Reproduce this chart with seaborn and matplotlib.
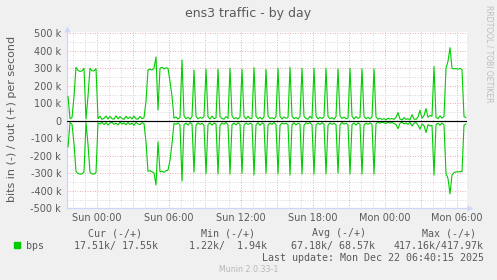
import matplotlib
matplotlib.use("Agg")
import matplotlib.pyplot as plt
import matplotlib.dates as mdates
import matplotlib.transforms as mtransforms
from matplotlib.patches import Rectangle
from matplotlib.ticker import MultipleLocator, FuncFormatter, FixedLocator
import pandas as pd
import seaborn as sns

# ---------------- data (k bits/s, 10-minute samples) ----------------
start_time = "2025-12-20 21:35"
sample_step = "10min"

out_k = [
    140, 12, 18, 140, 305, 288, 282, 285, 300, 10,
    140, 300, 286, 285, 298, 12, 26, 8, 14, 27,
    10, 25, 12, 9, 28, 11, 24, 13, 8, 26,
    12, 22, 10, 27, 11, 9, 25, 12, 18, 110,
    290, 296, 290, 300, 365, 62, 300, 306, 296, 303,
    300, 225, 140, 15, 22, 10, 18, 347, 28, 12,
    20, 9, 24, 290, 26, 11, 19, 14, 25, 296,
    22, 10, 27, 12, 16, 296, 25, 13, 9, 24,
    14, 300, 27, 12, 18, 10, 22, 294, 24, 11,
    26, 13, 15, 304, 26, 12, 20, 9, 23, 294,
    28, 13, 17, 11, 24, 300, 25, 10, 22, 14,
    18, 305, 27, 12, 19, 10, 25, 300, 24, 14,
    9, 26, 13, 300, 28, 11, 20, 13, 22, 300,
    25, 12, 18, 9, 24, 297, 27, 13, 21, 11,
    16, 300, 26, 10, 24, 14, 19, 297, 25, 12,
    20, 11, 22, 297, 22, 9, 14, 8, 12, 6,
    15, 10, 13, 8, 20, 47, 10, 5, 18, 8,
    12, 6, 35, 10, 8, 22, 60, 15, 30, 70,
    20, 31, 25, 310, 20, 12, 28, 15, 25, 300,
    340, 418, 300, 296, 298, 295, 300, 292, 24, 18,
]

in_k = [
    -150, -10, -20, -130, -290, -300, -305, -303, -292, -10,
    -135, -295, -303, -305, -296, -12, -18, -8, -22, -10,
    -25, -12, -9, -20, -14, -24, -8, -19, -12, -23,
    -9, -21, -13, -26, -10, -18, -22, -11, -15, -120,
    -288, -285, -292, -298, -367, -120, -292, -288, -294, -285,
    -282, -225, -130, -15, -20, -12, -24, -344, -22, -13,
    -25, -10, -18, -294, -24, -12, -20, -14, -26, -304,
    -21, -11, -25, -13, -17, -304, -26, -12, -19, -10,
    -23, -304, -22, -13, -24, -11, -18, -300, -25, -12,
    -21, -14, -19, -309, -23, -11, -26, -12, -17, -300,
    -24, -13, -20, -10, -22, -304, -25, -12, -18, -14,
    -21, -309, -22, -11, -24, -13, -19, -304, -26, -12,
    -17, -10, -23, -304, -24, -13, -21, -11, -18, -304,
    -25, -12, -20, -14, -22, -300, -23, -10, -19, -13,
    -24, -304, -22, -12, -25, -11, -18, -304, -24, -13,
    -20, -12, -21, -304, -16, -9, -14, -7, -12, -16,
    -8, -13, -10, -15, -22, -45, -14, -8, -18, -12,
    -20, -9, -30, -14, -10, -25, -48, -18, -28, -67,
    -22, -30, -26, -310, -22, -14, -26, -12, -24, -300,
    -330, -418, -310, -295, -292, -292, -290, -290, -25, -18,
]

y_ticks_k = [-500, -400, -300, -200, -100, 0, 100, 200, 300, 400, 500]
x_label_hours = [0, 6, 12, 18]
x_start = "2025-12-20 21:30"
x_end = "2025-12-22 06:50"

title = "ens3 traffic - by day"
ylabel = "bits in (-) / out (+) per second"
series_name = "bps"
legend_headers = ["Cur (-/+)", "Min (-/+)", "Avg (-/+)", "Max (-/+)"]
legend_values = ["17.51k/ 17.55k", "1.22k/  1.94k", "67.18k/ 68.57k", "417.16k/417.97k"]
last_update = "Last update: Mon Dec 22 06:40:15 2025"
watermark = "Munin 2.0.33-1"
rrd_tag = "RRDTOOL / TOBI OETIKER"

# ---------------- style ----------------
W, H = 497, 280
BACK = "#F0F0F0"
FONT = "#5a5a5a"
AXIS = "#CFD6F8"
GREEN = "#00CC00"
MGRID = "#ecb4b4"
GRID = "#dadada"

sns.set_style("white")
plt.rcParams["font.family"] = ["DejaVu Sans"]

fig = plt.figure(figsize=(W / 100, H / 100), dpi=100, facecolor=BACK)
ax_left, ax_right, ax_top, ax_bottom = 67, 467, 31.7, 208.3
ax = fig.add_axes([ax_left / W, 1 - ax_bottom / H, (ax_right - ax_left) / W, (ax_bottom - ax_top) / H])
ax.set_facecolor("white")

df = pd.DataFrame({
    "time": pd.date_range(start_time, periods=len(out_k), freq=sample_step),
    "out": out_k,
    "in": in_k,
})

sns.lineplot(data=df, x="time", y="out", color=GREEN, lw=0.8, ax=ax, estimator=None, zorder=3)
sns.lineplot(data=df, x="time", y="in", color=GREEN, lw=0.8, ax=ax, estimator=None, zorder=3)
ax.axhline(0, color="black", lw=0.85, zorder=5)

ax.set_xlim(pd.Timestamp(x_start), pd.Timestamp(x_end))
ax.set_ylim(y_ticks_k[0], y_ticks_k[-1] + 9)

# x axis
ax.xaxis.set_major_locator(mdates.HourLocator(byhour=range(0, 24, 3)))
ax.xaxis.set_minor_locator(mdates.HourLocator())


def xfmt(v, pos):
    d = mdates.num2date(v)
    return d.strftime("%a %H:%M") if (d.hour in x_label_hours and d.minute == 0) else ""


ax.xaxis.set_major_formatter(FuncFormatter(xfmt))

# y axis
ax.yaxis.set_major_locator(FixedLocator(y_ticks_k))
ax.yaxis.set_minor_locator(MultipleLocator(50))
ax.yaxis.set_major_formatter(FuncFormatter(lambda v, p: "0" if v == 0 else f"{int(v)} k"))

ax.set_xlabel("")
ax.set_ylabel("")

ax.tick_params(axis="x", which="both", length=0, pad=3.2, labelsize=7, labelcolor=FONT)
ax.tick_params(axis="y", which="both", length=1.6, width=0.6, color="#b0b0b0", pad=2.6,
               labelsize=7, labelcolor=FONT)

dots = (0, (1, 1.5))
ax.grid(which="minor", color=GRID, ls=dots, lw=0.72, zorder=0)
ax.grid(which="major", color=MGRID, ls=dots, lw=0.72, zorder=1)
ax.set_axisbelow(True)

for s in ["top", "right"]:
    ax.spines[s].set_visible(False)
for s in ["left", "bottom"]:
    ax.spines[s].set_color(AXIS)
    ax.spines[s].set_linewidth(0.9)

# axis arrows
t_up = mtransforms.offset_copy(ax.transAxes, fig=fig, x=0, y=2.5, units="dots")
ax.plot([0], [1], marker="^", ms=4.2, color=AXIS, mec="none", transform=t_up, clip_on=False)
t_rt = mtransforms.offset_copy(ax.transAxes, fig=fig, x=3.0, y=0, units="dots")
ax.plot([1], [0], marker=">", ms=4.2, color=AXIS, mec="none", transform=t_rt, clip_on=False)

# texts
fig.text(248 / W, 1 - 13.5 / H, title, ha="center", va="center", fontsize=9, color=FONT)
fig.text(11.7 / W, 1 - 119 / H, ylabel, rotation=90, ha="center", va="center", fontsize=8, color=FONT)
fig.text(489 / W, 1 - 5 / H, rrd_tag, rotation=270, ha="center", va="top", fontsize=5.5, color="#bdbdbd")

mono = dict(family="DejaVu Sans Mono", fontsize=7.2, color=FONT)
header_x = [88.5, 201.2, 312.2, 422.5]
for hx, ht in zip(header_x, legend_headers):
    fig.text(hx / W, 1 - 233.5 / H, ht, ha="left", va="center", **mono)

fig.patches.append(Rectangle((14 / W, 1 - 248.3 / H), 6 / W, 6 / H, color=GREEN,
                             transform=fig.transFigure, figure=fig))
fig.text(26.2 / W, 1 - 245.6 / H, series_name, ha="left", va="center", **mono)
value_right = [158.2, 267.0, 375.4, 483.6]
for vx, vt in zip(value_right, legend_values):
    fig.text(vx / W, 1 - 245.6 / H, vt, ha="right", va="center", **mono)

fig.text(483.6 / W, 1 - 257.8 / H, last_update, ha="right", va="center", **mono)
fig.text(248.3 / W, 1 - 269.5 / H, watermark, ha="center", va="center", fontsize=5.7, color="#b8b8b8")

fig.savefig("out.png", dpi=100, facecolor=BACK)
